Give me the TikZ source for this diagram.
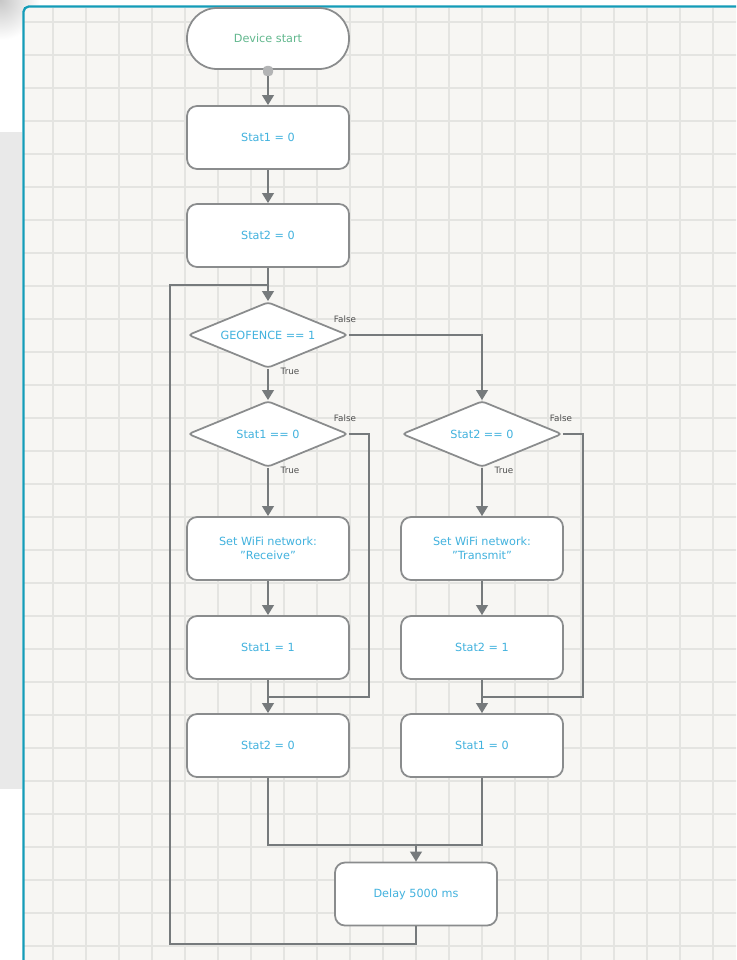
\documentclass[tikz,border=0pt]{standalone}
\usepackage{fontspec}
\setmainfont{DejaVu Sans}
\usepackage{tikz}
\usetikzlibrary{arrows.meta}
\usetikzlibrary{positioning,shapes.geometric}
\usepackage{xcolor}
\definecolor{paper}{RGB}{247,246,243}
\definecolor{gridcol}{RGB}{228,228,225}
\definecolor{framecol}{RGB}{20,156,184}
\definecolor{panelcol}{RGB}{233,233,233}
\definecolor{boxline}{RGB}{138,140,141}
\definecolor{flowline}{RGB}{118,122,124}
\definecolor{flowtext}{RGB}{66,178,222}
\definecolor{starttext}{RGB}{98,184,142}
\definecolor{labeltext}{RGB}{80,80,80}
\tikzset{
    process/.style={
        draw=boxline,
        fill=white,
        rounded corners=0.2cm,
        minimum width=3.24cm,
        minimum height=1.26cm,
        line width=1pt,
        align=center,
        text=flowtext,
        font=\fontsize{6.4}{8}\selectfont
    },
    terminal/.style={
        process,
        rounded corners=0.6cm,
        minimum height=1.22cm,
        text=starttext
    },
    decision/.style={
        draw=boxline,
        fill=white,
        diamond,
        aspect=2.4,
        rounded corners=2pt,
        minimum width=3.2cm,
        minimum height=1.32cm,
        inner sep=0pt,
        line width=1pt,
        text=flowtext,
        font=\fontsize{6.4}{8}\selectfont
    },
    link/.style={
        draw=flowline,
        line width=1.3pt
    },
    flow/.style={
        link,
        -{Triangle[length=2mm, width=2.3mm]}
    },
    branch/.style={
        text=labeltext,
        inner sep=0pt,
        font=\fontsize{5}{6}\selectfont
    }
}

\begin{document}
\begin{tikzpicture}
    \useasboundingbox (0,0) rectangle (14.72,-19.2);
    \clip (0,0) rectangle (14.72,-19.2);

    % page behind the editor
    \fill[white] (0,0) rectangle (14.72,-19.2);
    \shade[inner color=black!22, outer color=white] (0,0) circle (0.8);
    \fill[panelcol] (0,-2.64) rectangle (0.44,-15.78);

    % editor canvas
    \fill[paper] (0.47,-0.13) rectangle (14.9,-19.4);
    \begin{scope}[shift={(0.4,-0.44)}]
        \draw[gridcol, line width=0.8pt, step=0.66] (0.08,0.28) grid (14.5,-19);
    \end{scope}
    \draw[framecol, line width=1.3pt, rounded corners=3pt] (0.47,-19.5) -- (0.47,-0.13) -- (15,-0.13);

    \node[terminal] (start) at (5.36,-0.77) {Device start};
    \node[draw=none, fill=boxline!65, rounded corners=2pt, inner sep=0pt, minimum size=0.2cm] (startdot) at (5.36,-1.42) {};
    \node[process] (stat1init) at (5.36,-2.75) {Stat1 = 0};
    \node[process] (stat2init) at (5.36,-4.71) {Stat2 = 0};
    \node[decision] (geofence) at (5.36,-6.70) {GEOFENCE == 1};
    \node[decision] (check1) at (5.36,-8.68) {Stat1 == 0};
    \node[decision] (check2) at (9.64,-8.68) {Stat2 == 0};
    \node[process] (wifirx) at (5.36,-10.97) {Set WiFi network:\\\symbol{34}Receive\symbol{34}};
    \node[process] (wifitx) at (9.64,-10.97) {Set WiFi network:\\\symbol{34}Transmit\symbol{34}};
    \node[process] (stat1set) at (5.36,-12.95) {Stat1 = 1};
    \node[process] (stat2set) at (9.64,-12.95) {Stat2 = 1};
    \node[process] (stat2clr) at (5.36,-14.91) {Stat2 = 0};
    \node[process] (stat1clr) at (9.64,-14.91) {Stat1 = 0};
    \node[process] (delay) at (8.32,-17.88) {Delay 5000 ms};

    \node[branch] (geofalse) at (6.90,-6.38) {False};
    \node[branch] (geotrue) at (5.80,-7.42) {True};
    \node[branch] (check1false) at (6.90,-8.36) {False};
    \node[branch] (check1true) at (5.80,-9.40) {True};
    \node[branch] (check2false) at (11.22,-8.36) {False};
    \node[branch] (check2true) at (10.08,-9.40) {True};

    \coordinate (join1) at (5.36,-13.94);
    \coordinate (join2) at (9.64,-13.94);
    \coordinate (merge) at (8.32,-16.90);
    \coordinate (mergeend) at (9.64,-16.90);
    \coordinate (loopcorner) at (3.40,-18.88);
    \coordinate (loopjoin) at (5.36,-5.70);

    \draw[flow] (startdot) -- (stat1init);
    \draw[flow] (stat1init) -- (stat2init);
    \draw[flow] (stat2init) -- (geofence);
    \draw[flow] (geofence) -- (check1);
    \draw[flow] (geofence.east) -| (check2.north);
    \draw[flow] (check1) -- (wifirx);
    \draw[flow] (check2) -- (wifitx);
    \draw[flow] (wifirx) -- (stat1set);
    \draw[flow] (wifitx) -- (stat2set);
    \draw[flow] (stat1set) -- (stat2clr);
    \draw[flow] (stat2set) -- (stat1clr);

    \draw[link] (check1.east) -- ++(0.40,0) |- (join1);
    \draw[link] (check2.east) -- ++(0.40,0) |- (join2);
    \draw[link] (stat2clr.south) |- (mergeend) -- (stat1clr.south);
    \draw[flow] (merge) -- (delay);
    \draw[link] (delay.south) |- (loopcorner) |- (loopjoin);
\end{tikzpicture}
\end{document}
